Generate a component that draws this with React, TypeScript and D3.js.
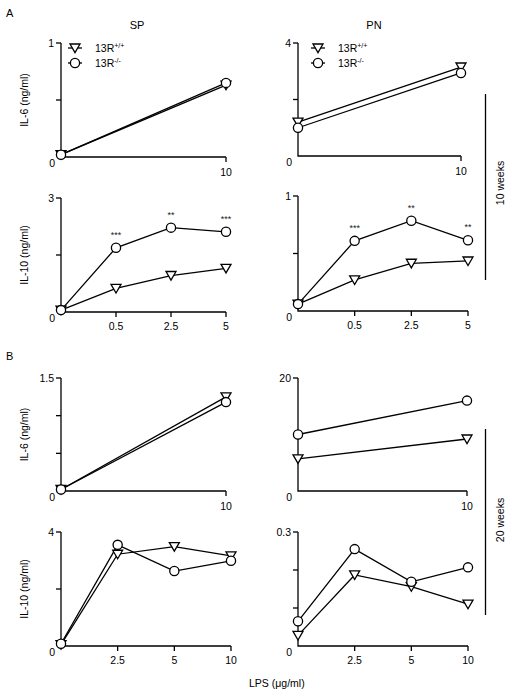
import React from "react";
import * as d3 from "d3";

// ---------- data ----------
const il6Doses = ["0", "10"];
const il10DosesA = ["0", "0.5", "2.5", "5"];
const il10DosesB = ["0", "2.5", "5", "10"];

const seriesNames = ["13R+/+", "13R-/-"];

// A (10 weeks)
const aSpIl6Wt = [0.02, 0.63];
const aSpIl6Ko = [0.02, 0.65];
const aPnIl6Wt = [1.2, 3.15];
const aPnIl6Ko = [1.0, 2.94];
const aSpIl10Wt = [0.05, 0.62, 0.96, 1.15];
const aSpIl10Ko = [0.05, 1.69, 2.22, 2.11];
const aPnIl10Wt = [0.06, 0.27, 0.415, 0.435];
const aPnIl10Ko = [0.06, 0.61, 0.785, 0.615];
const aSpIl10Sig = ["", "***", "**", "***"];
const aPnIl10Sig = ["", "***", "**", "**"];

// B (20 weeks)
const bSpIl6Wt = [0.02, 1.25];
const bSpIl6Ko = [0.02, 1.18];
const bPnIl6Wt = [5.7, 9.2];
const bPnIl6Ko = [10.0, 16.0];
const bSpIl10Wt = [0.05, 3.22, 3.49, 3.16];
const bSpIl10Ko = [0.08, 3.55, 2.63, 2.99];
const bPnIl10Wt = [0.028, 0.187, 0.156, 0.11];
const bPnIl10Ko = [0.065, 0.255, 0.169, 0.207];

// y-axis: max and tick values
const aSpIl6Ticks = [0, 0.5, 1];
const aPnIl6Ticks = [0, 2, 4];
const aSpIl10Ticks = [0, 1.5, 3];
const aPnIl10Ticks = [0, 0.5, 1];
const bSpIl6Ticks = [0, 0.5, 1, 1.5];
const bPnIl6Ticks = [0, 10, 20];
const bSpIl10Ticks = [0, 2, 4];
const bPnIl10Ticks = [0, 0.1, 0.2, 0.3];

const FONT = "'Liberation Sans', Arial, Helvetica, sans-serif";

type Panel = {
  x0: number; x1: number; y0: number; y1: number;
  cats: string[]; ticks: number[];
  wt: number[]; ko: number[];
  sig?: string[];
  ylabel?: string;
  legend?: boolean;
};

const panels: Panel[] = [
  { x0: 61, x1: 226, y0: 43, y1: 157, cats: il6Doses, ticks: aSpIl6Ticks, wt: aSpIl6Wt, ko: aSpIl6Ko, ylabel: "IL-6 (ng/ml)", legend: true },
  { x0: 298, x1: 461, y0: 43, y1: 156, cats: il6Doses, ticks: aPnIl6Ticks, wt: aPnIl6Wt, ko: aPnIl6Ko, legend: true },
  { x0: 61, x1: 226, y0: 198, y1: 312, cats: il10DosesA, ticks: aSpIl10Ticks, wt: aSpIl10Wt, ko: aSpIl10Ko, sig: aSpIl10Sig, ylabel: "IL-10 (ng/ml)" },
  { x0: 298, x1: 468, y0: 196, y1: 311, cats: il10DosesA, ticks: aPnIl10Ticks, wt: aPnIl10Wt, ko: aPnIl10Ko, sig: aPnIl10Sig },
  { x0: 61, x1: 226, y0: 378, y1: 491, cats: il6Doses, ticks: bSpIl6Ticks, wt: bSpIl6Wt, ko: bSpIl6Ko, ylabel: "IL-6 (ng/ml)" },
  { x0: 298, x1: 467, y0: 378, y1: 491, cats: il6Doses, ticks: bPnIl6Ticks, wt: bPnIl6Wt, ko: bPnIl6Ko },
  { x0: 61, x1: 231, y0: 532, y1: 646, cats: il10DosesB, ticks: bSpIl10Ticks, wt: bSpIl10Wt, ko: bSpIl10Ko, ylabel: "IL-10 (ng/ml)" },
  { x0: 298, x1: 468, y0: 532, y1: 646, cats: il10DosesB, ticks: bPnIl10Ticks, wt: bPnIl10Wt, ko: bPnIl10Ko },
];

const triPath = "M-5,-4 L5,-4 L0,4.6 Z";

function Tri({ x, y }: { x: number; y: number }) {
  return <path d={triPath} transform={`translate(${x},${y})`} fill="#fff" stroke="#000" strokeWidth={1.3} />;
}
function Circ({ x, y }: { x: number; y: number }) {
  return <circle cx={x} cy={y} r={4.6} fill="#fff" stroke="#000" strokeWidth={1.3} />;
}

function Legend({ x, y }: { x: number; y: number }) {
  return (
    <g>
      <line x1={x - 7} x2={x + 7} y1={y} y2={y} stroke="#000" strokeWidth={1.3} />
      <Tri x={x} y={y} />
      <line x1={x - 7} x2={x + 7} y1={y + 15} y2={y + 15} stroke="#000" strokeWidth={1.3} />
      <Circ x={x} y={y + 15} />
      <text x={x + 20} y={y + 4} fontSize={10.5} fontFamily={FONT}>
        {seriesNames[0].slice(0, 3)}
        <tspan fontSize={7} dy={-4}>{seriesNames[0].slice(3)}</tspan>
      </text>
      <text x={x + 20} y={y + 19} fontSize={10.5} fontFamily={FONT}>
        {seriesNames[1].slice(0, 3)}
        <tspan fontSize={7} dy={-4}>{seriesNames[1].slice(3)}</tspan>
      </text>
    </g>
  );
}

function PanelView({ p }: { p: Panel }) {
  const x = d3.scalePoint<string>().domain(p.cats).range([p.x0, p.x1]).padding(0);
  const ymax = p.ticks[p.ticks.length - 1];
  const y = d3.scaleLinear().domain([0, ymax]).range([p.y1, p.y0]);
  const line = d3.line<number>().x((_, i) => x(p.cats[i]) as number).y((v) => y(v));
  const fmt = (v: number) => String(v);
  return (
    <g>
      {/* axes */}
      <path d={`M${p.x0},${p.y0} L${p.x0},${p.y1} L${p.x1},${p.y1}`} fill="none" stroke="#000" strokeWidth={1.3} />
      {p.ticks.filter((t) => t > 0).map((t) => (
        <line key={t} x1={p.x0 - 5} x2={p.x0} y1={y(t)} y2={y(t)} stroke="#000" strokeWidth={1.3} />
      ))}
      <text x={p.x0 - 7} y={y(ymax) + 4} textAnchor="end" fontSize={10.5} fontFamily={FONT}>{fmt(ymax)}</text>
      <text x={p.x0 - 6} y={p.y1 + 10} textAnchor="end" fontSize={10.5} fontFamily={FONT}>0</text>
      {p.cats.slice(1).map((c) => (
        <g key={c}>
          <line x1={x(c)} x2={x(c)} y1={p.y1} y2={p.y1 + 5} stroke="#000" strokeWidth={1.3} />
          <text x={x(c)} y={p.y1 + (p.cats.length > 2 ? 18 : 19)} textAnchor="middle" fontSize={10.5} fontFamily={FONT}>{c}</text>
        </g>
      ))}
      {p.ylabel && (
        <text transform={`translate(28,${(p.y0 + p.y1) / 2}) rotate(-90)`} textAnchor="middle" fontSize={10.5} fontFamily={FONT}>{p.ylabel}</text>
      )}
      {/* lines */}
      <path d={line(p.wt) || ""} fill="none" stroke="#000" strokeWidth={1.3} />
      <path d={line(p.ko) || ""} fill="none" stroke="#000" strokeWidth={1.3} />
      {p.wt.map((v, i) => <Tri key={"t" + i} x={x(p.cats[i]) as number} y={y(v)} />)}
      {p.ko.map((v, i) => <Circ key={"c" + i} x={x(p.cats[i]) as number} y={y(v)} />)}
      {p.sig && p.sig.map((s, i) => s ? (
        <text key={"s" + i} x={x(p.cats[i])} y={y(p.ko[i]) - 10} textAnchor="middle" fontSize={9} fontFamily={FONT} fill="#222">{s}</text>
      ) : null)}
      {p.legend && <Legend x={p.x0 + 14 + (p.x0 > 200 ? 6 : 0)} y={48} />}
    </g>
  );
}

export default function App() {
  return (
    <svg width={512} height={696} style={{ position: "absolute", left: 0, top: 0, background: "#fff" }} fontFamily={FONT}>
      <rect width={512} height={696} fill="#fff" />
      <text x={6} y={17} fontSize={11} fontFamily={FONT}>A</text>
      <text x={6} y={360} fontSize={11} fontFamily={FONT}>B</text>
      <text x={137} y={29} textAnchor="middle" fontSize={11} fontFamily={FONT}>SP</text>
      <text x={374} y={29} textAnchor="middle" fontSize={11} fontFamily={FONT}>PN</text>
      {panels.map((p, i) => <PanelView key={i} p={p} />)}
      <line x1={485.5} x2={485.5} y1={94} y2={280} stroke="#000" strokeWidth={1.3} />
      <text transform={`translate(504,183) rotate(-90)`} textAnchor="middle" fontSize={10.5} fontFamily={FONT}>10 weeks</text>
      <line x1={485.5} x2={485.5} y1={429} y2={615} stroke="#000" strokeWidth={1.3} />
      <text transform={`translate(504,520) rotate(-90)`} textAnchor="middle" fontSize={10.5} fontFamily={FONT}>20 weeks</text>
      <text x={249} y={687} fontSize={10.5} fontFamily={FONT}>LPS (μg/ml)</text>
    </svg>
  );
}
